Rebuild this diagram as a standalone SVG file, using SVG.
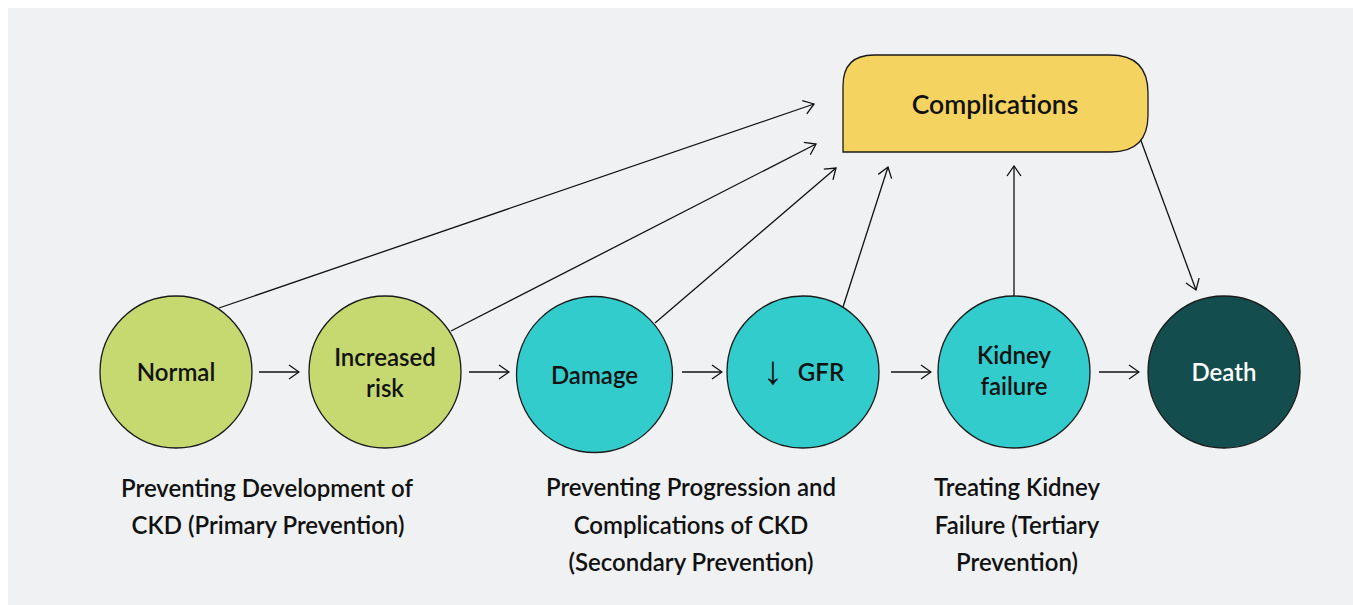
<svg xmlns="http://www.w3.org/2000/svg" width="1353" height="605" viewBox="0 0 1353 605">
<defs>
<style>
.bg{fill:#f0f1f3}
.node{stroke:#1a1a1a;stroke-width:1.3}
.green{fill:#c6d970}
.cyan{fill:#33cccc}
.dark{fill:#134d4e}
.yellow{fill:#f4d360}
.lbl{font-family:Lato,"Liberation Sans",sans-serif;font-weight:600;font-size:24px;fill:#111;text-anchor:middle}
.cap{font-family:Lato,"Liberation Sans",sans-serif;font-weight:600;font-size:24px;fill:#111;text-anchor:middle}
.big{font-size:26.5px}
.white{fill:#ffffff}
.thin{font-family:"Liberation Sans",sans-serif;font-weight:normal;font-size:40px}
.edge{stroke:#111;stroke-width:1.3;fill:none;marker-end:url(#arr)}
</style>
<marker id="arr" viewBox="0 0 12 16" refX="11" refY="8" markerWidth="12" markerHeight="16" markerUnits="userSpaceOnUse" orient="auto">
<path d="M1,1 L11,8 L1,15" fill="none" stroke="#111" stroke-width="1.3"/>
</marker>
</defs>
<rect class="bg" x="8" y="8" width="1345" height="597"/>

<g id="connectors">
<line class="edge" x1="219" y1="308" x2="814" y2="104"/>
<line class="edge" x1="451" y1="331" x2="816" y2="144"/>
<line class="edge" x1="655" y1="323" x2="836" y2="168"/>
<line class="edge" x1="843" y1="307" x2="888" y2="167"/>
<line class="edge" x1="1014" y1="296" x2="1014" y2="166"/>
<line class="edge" x1="1140" y1="138" x2="1196" y2="290"/>
<line class="edge" x1="259" y1="372" x2="299" y2="372"/>
<line class="edge" x1="469" y1="372" x2="509" y2="372"/>
<line class="edge" x1="682" y1="372" x2="722" y2="372"/>
<line class="edge" x1="891" y1="372" x2="931" y2="372"/>
<line class="edge" x1="1099" y1="372" x2="1139" y2="372"/>
</g>

<g id="complications">
<path class="node yellow" d="M843,152 L843,86 Q843,55 874,55 L1110,55 Q1148,55 1148,93 L1148,115 Q1148,152 1111,152 Z"/>
<text class="lbl big" x="995" y="114">Complications</text>
</g>

<g id="normal">
<circle class="node green" cx="176" cy="372" r="76"/>
<text class="lbl" x="176" y="381">Normal</text>
</g>

<g id="increased-risk">
<circle class="node green" cx="385" cy="372" r="76"/>
<text class="lbl" x="385" y="366">Increased</text>
<text class="lbl" x="385" y="397">risk</text>
</g>

<g id="damage">
<circle class="node cyan" cx="594.5" cy="374.5" r="78"/>
<text class="lbl" x="594.5" y="384">Damage</text>
</g>

<g id="gfr">
<circle class="node cyan" cx="803" cy="372" r="76"/>
<text class="lbl"><tspan class="thin" x="773" y="384">↓</tspan><tspan x="821" y="381">GFR</tspan></text>
</g>

<g id="kidney-failure">
<circle class="node cyan" cx="1014" cy="372" r="76"/>
<text class="lbl" x="1014" y="364">Kidney</text>
<text class="lbl" x="1014" y="395">failure</text>
</g>

<g id="death">
<circle class="node dark" cx="1224" cy="372" r="76"/>
<text class="lbl white" x="1224" y="381">Death</text>
</g>

<g id="captions">
<text class="cap" x="267" y="497">Preventing Development of</text>
<text class="cap" x="268" y="534">CKD (Primary Prevention)</text>
<text class="cap" x="691" y="496">Preventing Progression and</text>
<text class="cap" x="691" y="534">Complications of CKD</text>
<text class="cap" x="691" y="571">(Secondary Prevention)</text>
<text class="cap" x="1017" y="496">Treating Kidney</text>
<text class="cap" x="1017" y="534">Failure (Tertiary</text>
<text class="cap" x="1017" y="571">Prevention)</text>
</g>
</svg>
